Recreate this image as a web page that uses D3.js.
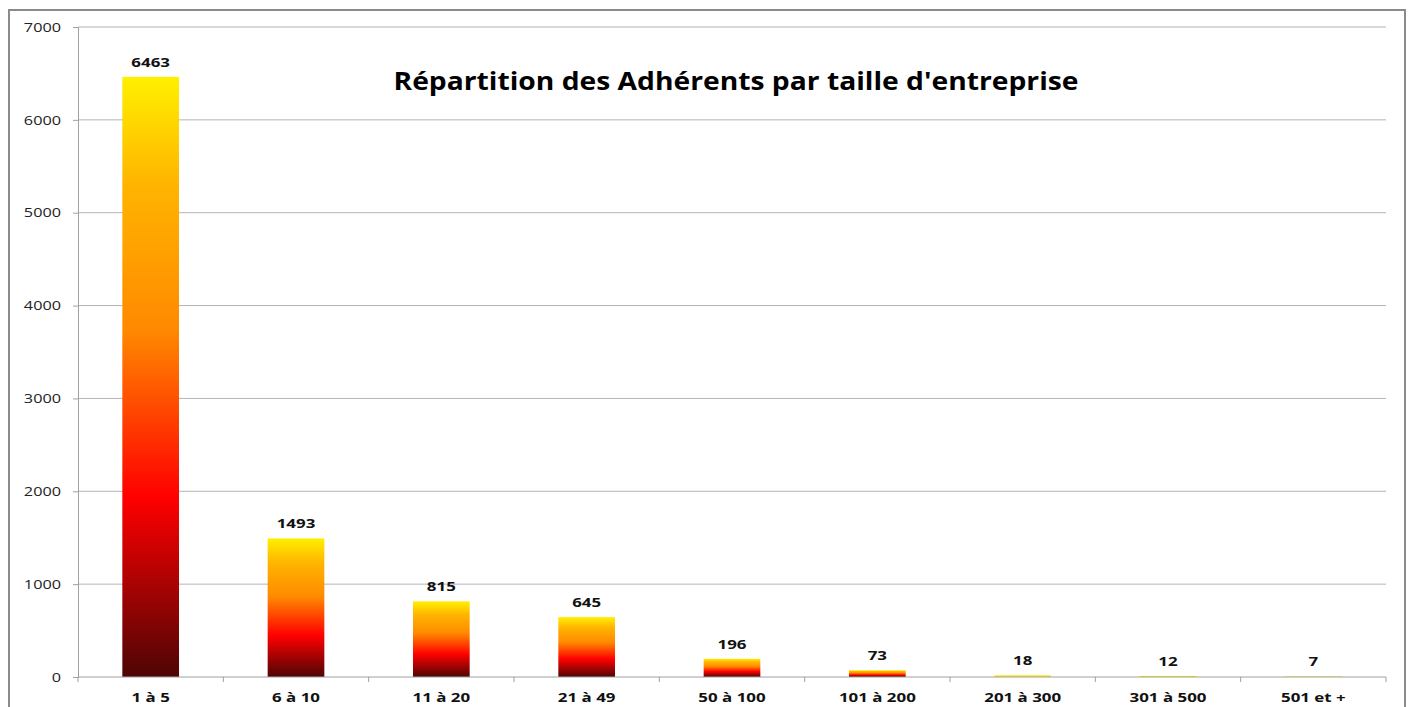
<!doctype html>
<head>
  <meta charset="utf-8">
  <title>Répartition des Adhérents par taille d'entreprise</title>
  <script src="https://d3js.org/d3.v7.min.js"></script>
</head>
<style>
  body { margin: 0; background: #fff; }
  text { font-family: "Open Sans", "DejaVu Sans", sans-serif; }
  .grid line { stroke: #b4b4b4; stroke-width: 1px; }
  .axis path, .axis line { stroke: #a0a0a0; }
  .axis text { font-size: 13px; fill: #222; }
  .xaxis text { font-weight: bold; fill: #111; }
</style>
<body>
<div id="vis-canvas"></div>
<script>
  // data
  var categories = ["1 à 5", "6 à 10", "11 à 20", "21 à 49", "50 à 100", "101 à 200", "201 à 300", "301 à 500", "501 et +"];
  var adherents = [6463, 1493, 815, 645, 196, 73, 18, 12, 7];
  var yTicks = [0, 1000, 2000, 3000, 4000, 5000, 6000, 7000];

  var W = 1410, H = 707;
  var margin = {top: 27, right: 24, bottom: 30, left: 78},
      width = W - margin.left - margin.right,
      height = H - margin.top - margin.bottom;

  // the original text is drawn wide, stretch it horizontally
  function stretch(sel, sx) {
    sel.each(function() {
      var t = d3.select(this);
      var tx = +t.attr("x") || 0, ty = +t.attr("y") || 0;
      t.attr("x", 0).attr("y", 0)
       .attr("transform", "translate(" + tx + "," + ty + ") scale(" + sx + ",1)");
    });
  }

  var root = d3.select("#vis-canvas").append("svg")
      .attr("width", W)
      .attr("height", H);

  // outer frame
  root.append("rect")
      .attr("x", 9).attr("y", 10)
      .attr("width", 1396).attr("height", 720)
      .attr("fill", "none")
      .attr("stroke", "#8a8a8a")
      .attr("stroke-width", 2);

  var svg = root.append("g")
      .attr("transform", "translate(" + margin.left + "," + margin.top + ")");

  var x = d3.scaleBand().domain(categories).range([0, width]);
  var y = d3.scaleLinear().domain([0, 7000]).range([height, 0]);

  // gradient per bar (dark red bottom -> yellow top)
  var defs = root.append("defs");
  var grad = defs.append("linearGradient")
      .attr("id", "fire")
      .attr("x1", 0).attr("y1", 1).attr("x2", 0).attr("y2", 0);
  grad.selectAll("stop")
      .data([[0, "#4e0505"], [0.30, "#ff0000"], [0.58, "#ff8a00"], [0.82, "#ffb400"], [1, "#fff000"]])
      .enter().append("stop")
      .attr("offset", function(d) { return d[0]; })
      .attr("stop-color", function(d) { return d[1]; });

  // gridlines
  svg.append("g")
      .attr("class", "grid")
      .selectAll("line")
      .data(yTicks.filter(function(d) { return d > 0; }))
      .enter().append("line")
      .attr("x1", 0).attr("x2", width)
      .attr("y1", function(d) { return y(d); })
      .attr("y2", function(d) { return y(d); });

  // y axis
  var yAxis = svg.append("g")
      .attr("class", "axis")
      .call(d3.axisLeft(y).tickValues(yTicks).tickSize(5).tickPadding(12).tickFormat(d3.format("d")));
  yAxis.selectAll("text").each(function() {
    var t = d3.select(this);
    t.attr("transform", "translate(" + t.attr("x") + ",0) scale(1.25,1)").attr("x", 0);
  });

  // bars
  var bw = x.bandwidth() * 0.39;
  svg.selectAll(".bar")
      .data(adherents)
      .enter().append("rect")
      .attr("class", "bar")
      .attr("x", function(d, i) { return x(categories[i]) + (x.bandwidth() - bw) / 2; })
      .attr("width", bw)
      .attr("y", function(d) { return y(d); })
      .attr("height", function(d) { return height - y(d); })
      .attr("fill", function(d) { return height - y(d) < 3 ? "#ffe800" : "url(#fire)"; });

  // x axis with ticks between categories
  var xAxis = svg.append("g")
      .attr("class", "axis xaxis")
      .attr("transform", "translate(0," + height + ")");
  xAxis.append("line")
      .attr("x1", 0).attr("x2", width);
  xAxis.selectAll(".sep")
      .data(d3.range(categories.length + 1))
      .enter().append("line")
      .attr("x1", function(i) { return i * x.step(); })
      .attr("x2", function(i) { return i * x.step(); })
      .attr("y1", 0).attr("y2", 5);
  xAxis.selectAll(".lbl")
      .data(categories)
      .enter().append("text")
      .attr("x", function(d) { return x(d) + x.bandwidth() / 2; })
      .attr("y", 25)
      .attr("text-anchor", "middle")
      .text(function(d) { return d; })
      .call(stretch, 1.3);

  // value labels
  svg.selectAll(".val")
      .data(adherents)
      .enter().append("text")
      .attr("x", function(d, i) { return x(categories[i]) + x.bandwidth() / 2; })
      .attr("y", function(d) { return y(d) - 10; })
      .attr("text-anchor", "middle")
      .style("font-size", "13px")
      .style("font-weight", "bold")
      .style("fill", "#111")
      .text(function(d) { return d; })
      .call(stretch, 1.3);

  // title
  root.append("text")
      .attr("x", 736)
      .attr("y", 90)
      .attr("text-anchor", "middle")
      .style("font-size", "25px")
      .style("font-weight", "bold")
      .style("fill", "#000")
      .text("Répartition des Adhérents par taille d'entreprise")
      .call(stretch, 1.13);
</script>
</body>
